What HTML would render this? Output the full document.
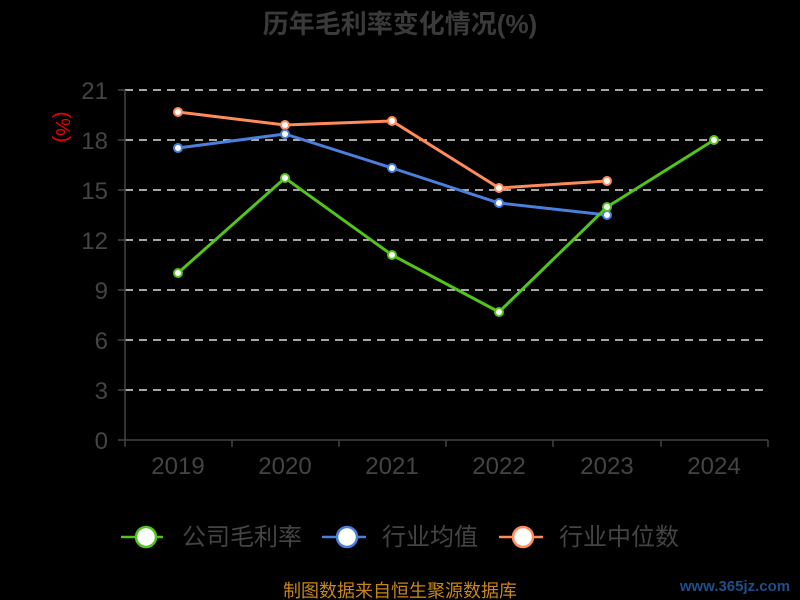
<!DOCTYPE html>
<html><head><meta charset="utf-8"><style>html,body{margin:0;padding:0;background:#000;}svg{display:block}</style></head>
<body>
<svg width="800" height="600" xmlns="http://www.w3.org/2000/svg" font-family="Liberation Sans, Noto Sans CJK SC, sans-serif">
<rect width="800" height="600" fill="#000"/>
<text x="400" y="33" text-anchor="middle" font-size="26" font-weight="bold" fill="#3a3a3a">历年毛利率变化情况(%)</text>
<text x="56" y="127" text-anchor="middle" font-size="20" fill="#f00000" transform="rotate(90 56 127)">(%)</text>
<g stroke="#ddd" stroke-width="1.5" stroke-dasharray="8,6">
<line x1="125" y1="90" x2="768" y2="90"/><line x1="125" y1="140" x2="768" y2="140"/>
<line x1="125" y1="190" x2="768" y2="190"/><line x1="125" y1="240" x2="768" y2="240"/>
<line x1="125" y1="290" x2="768" y2="290"/><line x1="125" y1="340" x2="768" y2="340"/>
<line x1="125" y1="390" x2="768" y2="390"/></g>
<g stroke="#444" stroke-width="1.5">
<line x1="125" y1="90" x2="125" y2="440"/><line x1="118" y1="440" x2="768" y2="440"/>
<line x1="118" y1="90" x2="125" y2="90"/><line x1="118" y1="140" x2="125" y2="140"/><line x1="118" y1="190" x2="125" y2="190"/><line x1="118" y1="240" x2="125" y2="240"/><line x1="118" y1="290" x2="125" y2="290"/><line x1="118" y1="340" x2="125" y2="340"/><line x1="118" y1="390" x2="125" y2="390"/>
<line x1="125" y1="440" x2="125" y2="447"/><line x1="232" y1="440" x2="232" y2="447"/><line x1="339" y1="440" x2="339" y2="447"/><line x1="446" y1="440" x2="446" y2="447"/><line x1="553" y1="440" x2="553" y2="447"/><line x1="661" y1="440" x2="661" y2="447"/><line x1="768" y1="440" x2="768" y2="447"/>
</g>
<g font-size="24" fill="#444" text-anchor="end">
<text x="108" y="99">21</text><text x="108" y="149">18</text><text x="108" y="199">15</text><text x="108" y="249">12</text><text x="108" y="299">9</text><text x="108" y="349">6</text><text x="108" y="399">3</text><text x="108" y="449">0</text></g>
<g font-size="24" fill="#444" text-anchor="middle">
<text x="178" y="474">2019</text><text x="285" y="474">2020</text><text x="392" y="474">2021</text><text x="499" y="474">2022</text><text x="607" y="474">2023</text><text x="714" y="474">2024</text></g>
<g fill="none" stroke-width="3">
<polyline stroke="#ff8c5a" points="178,112 285,125 392,121 499,188 607,181"/>
<polyline stroke="#4a7fdc" points="178,148 285,134 392,168 499,203 607,215"/>
<polyline stroke="#52c41a" points="178,273 285,178 392,255 499,312 607,207 714,140"/>
</g>
<g fill="#fff" stroke-width="2">
<g stroke="#ff8c5a"><circle cx="178" cy="112" r="4"/><circle cx="285" cy="125" r="4"/><circle cx="392" cy="121" r="4"/><circle cx="499" cy="188" r="4"/><circle cx="607" cy="181" r="4"/></g>
<g stroke="#4a7fdc"><circle cx="178" cy="148" r="4"/><circle cx="285" cy="134" r="4"/><circle cx="392" cy="168" r="4"/><circle cx="499" cy="203" r="4"/><circle cx="607" cy="215" r="4"/></g>
<g stroke="#52c41a"><circle cx="178" cy="273" r="4"/><circle cx="285" cy="178" r="4"/><circle cx="392" cy="255" r="4"/><circle cx="499" cy="312" r="4"/><circle cx="607" cy="207" r="4"/><circle cx="714" cy="140" r="4"/></g>
</g>
<g stroke-width="2.5">
<line x1="121" y1="537" x2="163" y2="537" stroke="#52c41a"/><circle cx="146" cy="537" r="10" fill="#fff" stroke="#52c41a"/>
<line x1="322" y1="537" x2="366" y2="537" stroke="#4a7fdc"/><circle cx="347" cy="537" r="10" fill="#fff" stroke="#4a7fdc"/>
<line x1="499" y1="537" x2="543" y2="537" stroke="#ff8c5a"/><circle cx="523" cy="537" r="10" fill="#fff" stroke="#ff8c5a"/>
</g>
<g font-size="24" fill="#444">
<text x="182" y="545">公司毛利率</text><text x="382" y="545">行业均值</text><text x="559" y="545">行业中位数</text></g>
<text x="400" y="597" text-anchor="middle" font-size="18" fill="#c8861a">制图数据来自恒生聚源数据库</text>
<text x="735" y="591" text-anchor="middle" font-size="15" font-weight="bold" fill="#1e4f8a">www.365jz.com</text>
</svg>
</body></html>
